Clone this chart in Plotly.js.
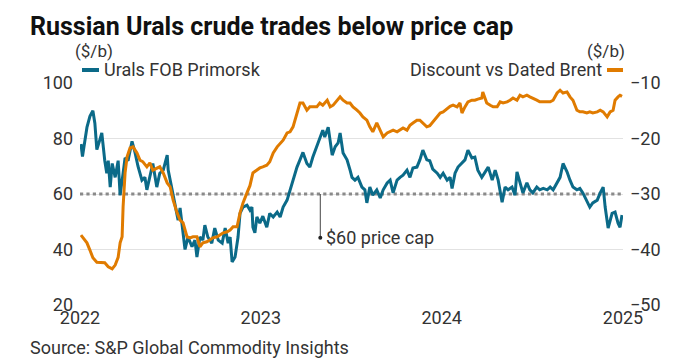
<!DOCTYPE html>
<html><head><meta charset="utf-8">
<script src="https://cdn.plot.ly/plotly-3.0.1.min.js"></script>
<style>html,body{margin:0;padding:0;background:#fff}</style>
</head><body>
<div id="chart" style="width:673px;height:364px"></div>
<script>
// Urals FOB Primorsk ($/b), left axis
const uralsDates = ['2022-01-03','2022-01-06','2022-01-09','2022-01-15','2022-01-21','2022-01-27','2022-01-31','2022-02-04','2022-02-10','2022-02-14','2022-02-20','2022-02-24','2022-02-27','2022-03-03','2022-03-07','2022-03-13','2022-03-19','2022-03-23','2022-03-29','2022-04-02','2022-04-08','2022-04-16','2022-04-22','2022-04-28','2022-05-06','2022-05-12','2022-05-16','2022-05-22','2022-05-28','2022-06-05','2022-06-11','2022-06-18','2022-06-26','2022-06-28','2022-07-06','2022-07-12','2022-07-18','2022-07-22','2022-07-28','2022-08-01','2022-08-07','2022-08-15','2022-08-21','2022-08-25','2022-08-31','2022-09-06','2022-09-10','2022-09-16','2022-09-24','2022-09-30','2022-10-07','2022-10-15','2022-10-21','2022-10-27','2022-10-31','2022-11-04','2022-11-10','2022-11-14','2022-11-16','2022-11-20','2022-11-26','2022-12-04','2022-12-10','2022-12-14','2022-12-16','2022-12-20','2022-12-24','2022-12-30','2023-01-05','2023-01-13','2023-01-19','2023-01-26','2023-02-03','2023-02-09','2023-02-15','2023-02-23','2023-03-01','2023-03-07','2023-03-15','2023-03-21','2023-03-27','2023-04-04','2023-04-10','2023-04-16','2023-04-24','2023-04-30','2023-05-06','2023-05-10','2023-05-17','2023-05-25','2023-05-31','2023-06-06','2023-06-10','2023-06-16','2023-06-24','2023-06-30','2023-07-04','2023-07-10','2023-07-16','2023-07-24','2023-07-30','2023-08-03','2023-08-09','2023-08-15','2023-08-23','2023-08-30','2023-09-05','2023-09-13','2023-09-19','2023-09-25','2023-10-03','2023-10-09','2023-10-15','2023-10-23','2023-10-29','2023-11-04','2023-11-12','2023-11-18','2023-11-24','2023-12-02','2023-12-08','2023-12-14','2023-12-23','2023-12-29','2024-01-04','2024-01-12','2024-01-18','2024-01-22','2024-01-28','2024-02-03','2024-02-11','2024-02-17','2024-02-23','2024-03-02','2024-03-08','2024-03-14','2024-03-22','2024-03-28','2024-04-04','2024-04-12','2024-04-18','2024-04-24','2024-05-02','2024-05-08','2024-05-14','2024-05-22','2024-05-28','2024-06-01','2024-06-07','2024-06-13','2024-06-21','2024-06-27','2024-07-03','2024-07-11','2024-07-17','2024-07-24','2024-08-01','2024-08-07','2024-08-13','2024-08-21','2024-08-27','2024-09-02','2024-09-10','2024-09-16','2024-09-22','2024-09-30','2024-10-06','2024-10-12','2024-10-20','2024-10-26','2024-11-01','2024-11-10','2024-11-16','2024-11-22','2024-11-26','2024-12-02','2024-12-10','2024-12-16','2024-12-22','2024-12-26','2024-12-30'];
const uralsPrice = [78,73.5,77,84,88,90,85.5,76,79.5,82,72,67.5,72,62.5,71,66,72,59.6,67.5,73,72,79,75,70,65,66,61.5,66,71,62.5,67.5,68.6,74,68.6,61.5,55.3,50.6,55,46,40,44.5,41,43.4,37.3,44.5,43.4,48.8,44.5,42.3,47.7,43.4,42.3,47.7,42.3,44.5,35.5,37.3,42.3,44.5,53,55.3,56,54.2,55.3,48,46,51.7,49.5,52,48,53,51.7,53.5,51.7,55.3,57.8,61.5,65,69.7,72.3,75,71,69.7,73.3,77,80.5,83,80.5,84.1,74,77,78.4,82,74.8,72.3,68.7,66,65,66,62.5,61.5,56.8,62.5,59.6,61.5,58.6,61.5,64,65,60.4,65,66,66.8,68.6,66,69.4,69.7,72.3,75.8,72.3,72,69,67.5,66,67.5,65,66,62,67.5,69.7,71,72.3,75.8,73,73.3,68.6,66,67.5,69.7,65,68.6,65,57,62.5,61.5,62.5,59.6,68,64,60.4,64,61.5,60.4,62.5,61.5,62,61.5,62.5,61.5,64,66,71,68,65,62.5,61.5,62,60.4,57.8,55.3,56.8,57.8,60.4,62.5,55.3,47.7,53,53.5,49.5,48,52.4];

// Discount vs Dated Brent ($/b), right axis
const discDates = ['2022-01-03','2022-01-07','2022-01-15','2022-01-21','2022-01-27','2022-02-04','2022-02-14','2022-02-20','2022-02-27','2022-03-07','2022-03-13','2022-03-19','2022-03-23','2022-03-27','2022-03-29','2022-04-02','2022-04-06','2022-04-12','2022-04-18','2022-04-26','2022-05-02','2022-05-08','2022-05-16','2022-05-22','2022-05-28','2022-06-05','2022-06-11','2022-06-18','2022-06-26','2022-07-02','2022-07-08','2022-07-16','2022-07-22','2022-07-28','2022-08-05','2022-08-11','2022-08-17','2022-08-25','2022-08-31','2022-09-06','2022-09-14','2022-09-20','2022-09-26','2022-10-05','2022-10-11','2022-10-17','2022-10-25','2022-10-31','2022-11-06','2022-11-14','2022-11-20','2022-11-26','2022-12-04','2022-12-10','2022-12-16','2022-12-24','2022-12-30','2023-01-05','2023-01-13','2023-01-19','2023-01-26','2023-02-03','2023-02-09','2023-02-15','2023-02-23','2023-03-01','2023-03-07','2023-03-15','2023-03-21','2023-03-27','2023-04-04','2023-04-10','2023-04-24','2023-04-30','2023-05-06','2023-05-15','2023-05-21','2023-05-27','2023-06-04','2023-06-10','2023-06-16','2023-06-24','2023-06-30','2023-07-06','2023-07-14','2023-07-20','2023-07-26','2023-08-03','2023-08-09','2023-08-15','2023-08-23','2023-08-30','2023-09-05','2023-09-13','2023-09-19','2023-09-25','2023-10-03','2023-10-09','2023-10-15','2023-10-23','2023-10-29','2023-11-04','2023-11-12','2023-11-18','2023-11-24','2023-12-02','2023-12-08','2023-12-14','2023-12-23','2023-12-29','2024-01-04','2024-01-12','2024-01-18','2024-01-24','2024-02-01','2024-02-07','2024-02-11','2024-02-17','2024-02-23','2024-03-02','2024-03-08','2024-03-14','2024-03-22','2024-03-24','2024-04-01','2024-04-08','2024-04-14','2024-04-22','2024-04-28','2024-05-04','2024-05-12','2024-05-18','2024-05-24','2024-06-01','2024-06-07','2024-06-13','2024-06-21','2024-06-27','2024-07-03','2024-07-11','2024-07-17','2024-08-01','2024-08-07','2024-08-13','2024-08-21','2024-08-27','2024-09-02','2024-09-10','2024-09-16','2024-09-22','2024-09-30','2024-10-06','2024-10-12','2024-10-20','2024-10-26','2024-11-01','2024-11-10','2024-11-16','2024-11-22','2024-11-30','2024-12-06','2024-12-12','2024-12-16','2024-12-22','2024-12-26','2024-12-30'];
const discValue = [-37.4,-37.9,-38.8,-40.1,-41.5,-42.3,-42.3,-42.4,-43.1,-43.5,-42.8,-41.4,-38.8,-37.7,-32.3,-26.2,-23.3,-21.7,-21.5,-22.6,-23.9,-24.2,-25.1,-24.4,-25.7,-25.3,-25.1,-26.2,-28,-28.7,-31.1,-33.4,-34.7,-35.2,-37.7,-37.9,-37.7,-37.7,-39.5,-38.8,-38.6,-38.3,-37.9,-37.7,-37.4,-37,-36.8,-36.5,-35.9,-35.9,-33.4,-31.6,-29.8,-28.5,-26.2,-25.7,-25.3,-25.1,-24.8,-24.2,-22.6,-21.5,-20.8,-20.3,-19,-18.8,-17.9,-15.4,-13.6,-13.6,-14.9,-14.3,-14.3,-13.6,-14,-13.1,-14.3,-14,-13.1,-12.5,-13.1,-13.6,-13.6,-14.3,-14.9,-15.4,-16.1,-16.7,-17.9,-18.8,-17.2,-18.5,-19.7,-19,-18.8,-18.5,-18.8,-18.5,-18.1,-18.5,-17.6,-17.2,-16.7,-16.7,-17.2,-17.9,-17.7,-17,-16,-15.4,-15.2,-14.7,-14.2,-14,-14.3,-13.6,-15.4,-14.3,-13.4,-13.1,-13.1,-12.9,-12.7,-11.6,-13.6,-14,-14.3,-14.3,-13.4,-13.6,-13.4,-13.1,-12.7,-13.1,-12.2,-12.5,-12.2,-12.5,-12.7,-13.1,-13.4,-13.4,-13.4,-13.1,-11.8,-11.3,-11.8,-11.6,-12.5,-13.1,-14.9,-15.2,-15.2,-15.4,-15.2,-15.4,-15.2,-14.9,-15.2,-16.1,-15.2,-14.9,-13.1,-12.5,-12.2,-12.4];

const yearTicks = ['2022-01-01','2023-01-01','2024-01-01','2025-01-01'];
const yearLabels = ['2022','2023','2024','2025'];
const leftTicks = [20,40,60,80,100];
const rightTicks = [-50,-40,-30,-20,-10];
const priceCap = 60;
const capNoteDate = '2023-05-01';
const capNoteBottom = 44.2;

const BLUE = '#0b6a88', ORANGE = '#e07b00', TXT = '#333333';
const FONT = 'Roboto, "Noto Sans", sans-serif';
const FS = 18;

const traces = [
  {x: [yearTicks[0], yearTicks[yearTicks.length - 1]], y: [priceCap, priceCap], yaxis: 'y', type: 'scatter', mode: 'lines',
   line: {color: '#8a8a8a', width: 3.2, dash: 'dot'}, name: 'Price cap', hoverinfo: 'skip'},
  {x: discDates, y: discValue, yaxis: 'y2', type: 'scatter', mode: 'lines',
   line: {color: ORANGE, width: 3}, name: 'Discount vs Dated Brent', hoverinfo: 'skip'},
  {x: uralsDates, y: uralsPrice, yaxis: 'y', type: 'scatter', mode: 'lines',
   line: {color: BLUE, width: 3}, name: 'Urals FOB Primorsk', hoverinfo: 'skip'}
];

const layout = {
  width: 673, height: 364,
  margin: {l: 80, r: 50, t: 83, b: 59, pad: 0},
  paper_bgcolor: '#ffffff', plot_bgcolor: '#ffffff',
  showlegend: false,
  font: {family: FONT, color: TXT, size: FS},
  title: {text: '<b>Russian Urals crude trades below price cap</b>', xref: 'container', yref: 'container',
          x: 30/673, xanchor: 'left', y: 1 - 26/364, yanchor: 'middle',
          font: {family: FONT, size: 25, color: '#111111'}},
  xaxis: {type: 'date', range: ['2022-01-01','2025-01-01'], tickvals: yearTicks, ticktext: yearLabels,
          showgrid: false, zeroline: false, showline: false, ticks: '', tickfont: {size: FS, color: TXT}},
  yaxis: {range: [20, 100], tickvals: leftTicks, showgrid: true, gridcolor: '#e2e2e2', gridwidth: 1,
          zeroline: false, showline: false, ticks: '', tickfont: {size: FS, color: TXT}, ticklabelstandoff: 6},
  yaxis2: {range: [-50, -10], tickvals: rightTicks, overlaying: 'y', side: 'right', showgrid: false,
           zeroline: false, showline: false, ticks: '', tickfont: {size: FS, color: TXT}, ticklabelstandoff: 6},
  shapes: [
    {type: 'line', xref: 'x', yref: 'y', x0: capNoteDate, x1: capNoteDate, y0: priceCap, y1: capNoteBottom,
     line: {color: '#444', width: 1}},
    {type: 'circle', xref: 'x', yref: 'y', xsizemode: 'pixel', ysizemode: 'pixel',
     xanchor: capNoteDate, yanchor: capNoteBottom, x0: -2, x1: 2, y0: -2, y1: 2,
     fillcolor: '#222', line: {width: 0}},
    {type: 'line', xref: 'paper', yref: 'paper', x0: (82-80)/543, x1: (99-80)/543, y0: (305-70)/222, y1: (305-70)/222,
     line: {color: BLUE, width: 4}},
    {type: 'line', xref: 'paper', yref: 'paper', x0: (607-80)/543, x1: (623-80)/543, y0: (305-70)/222, y1: (305-70)/222,
     line: {color: ORANGE, width: 4}}
  ],
  annotations: [
    {text: '$60 price cap', xref: 'x', yref: 'y', x: capNoteDate, y: capNoteBottom, xanchor: 'left', yanchor: 'middle',
     xshift: 4, showarrow: false, font: {size: FS, color: TXT}},
    {text: 'Urals FOB Primorsk', xref: 'paper', yref: 'paper', x: (102-80)/543, y: (305-70)/222,
     xanchor: 'left', yanchor: 'middle', showarrow: false, font: {size: FS, color: TXT}},
    {text: 'Discount vs Dated Brent', xref: 'paper', yref: 'paper', x: (604-80)/543, y: (305-70)/222,
     xanchor: 'right', yanchor: 'middle', showarrow: false, font: {size: FS, color: TXT}},
    {text: '($/b)', xref: 'paper', yref: 'paper', x: (73-80)/543, y: (305-51)/222,
     xanchor: 'left', yanchor: 'middle', showarrow: false, font: {size: 17, color: TXT}},
    {text: '($/b)', xref: 'paper', yref: 'paper', x: (627-80)/543, y: (305-51)/222,
     xanchor: 'right', yanchor: 'middle', showarrow: false, font: {size: 17, color: TXT}},
    {text: 'Source: S&P Global Commodity Insights', xref: 'paper', yref: 'paper', x: (28-80)/543, y: (305-347)/222,
     xanchor: 'left', yanchor: 'middle', showarrow: false, font: {size: FS, color: TXT}}
  ]
};

Plotly.newPlot('chart', traces, layout, {staticPlot: true, displayModeBar: false});
</script>
</body></html>
